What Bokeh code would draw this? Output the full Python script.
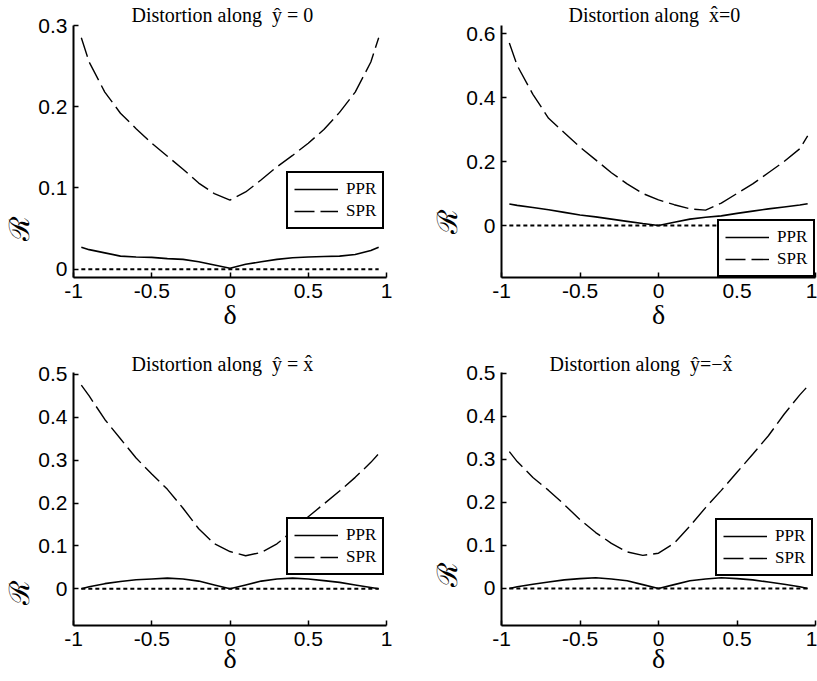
from bokeh.plotting import figure
from bokeh.layouts import column, row
from bokeh.models import FixedTicker, CustomJSTickFormatter, Range1d, Title
from bokeh.embed import file_html
from bokeh.resources import INLINE

# ---- data ----
delta = [-0.95, -0.9, -0.8, -0.7, -0.6, -0.5, -0.4, -0.3, -0.2, -0.1, 0.0,
         0.1, 0.2, 0.3, 0.4, 0.5, 0.6, 0.7, 0.8, 0.9, 0.95]

ppr_y0 = [0.027, 0.024, 0.020, 0.016, 0.015, 0.0145, 0.013, 0.012, 0.009, 0.005, 0.001,
          0.006, 0.009, 0.012, 0.014, 0.015, 0.0155, 0.016, 0.018, 0.023, 0.027]
spr_y0 = [0.285, 0.255, 0.218, 0.192, 0.173, 0.155, 0.139, 0.123, 0.106, 0.093, 0.085,
          0.095, 0.110, 0.126, 0.140, 0.155, 0.172, 0.193, 0.218, 0.255, 0.285]

ppr_x0 = [0.067, 0.063, 0.056, 0.049, 0.041, 0.033, 0.027, 0.020, 0.013, 0.006, 0.000,
          0.010, 0.020, 0.026, 0.030, 0.038, 0.045, 0.052, 0.058, 0.064, 0.068]
spr_x0 = [0.570, 0.500, 0.410, 0.335, 0.290, 0.245, 0.205, 0.165, 0.130, 0.100, 0.080,
          0.065, 0.052, 0.048, 0.070, 0.100, 0.130, 0.165, 0.200, 0.240, 0.280]

ppr_yx = [0.000, 0.005, 0.012, 0.017, 0.021, 0.023, 0.025, 0.023, 0.018, 0.009, 0.000,
          0.009, 0.018, 0.023, 0.025, 0.023, 0.019, 0.015, 0.009, 0.003, 0.000]
spr_yx = [0.475, 0.450, 0.395, 0.350, 0.305, 0.268, 0.232, 0.188, 0.140, 0.105, 0.087,
          0.077, 0.085, 0.105, 0.135, 0.168, 0.198, 0.228, 0.260, 0.295, 0.315]

ppr_ymx = [0.000, 0.004, 0.010, 0.015, 0.020, 0.023, 0.025, 0.022, 0.018, 0.009, 0.000,
           0.009, 0.018, 0.022, 0.025, 0.023, 0.020, 0.015, 0.010, 0.004, 0.000]
spr_ymx = [0.318, 0.295, 0.258, 0.228, 0.195, 0.160, 0.130, 0.105, 0.085, 0.077, 0.082,
           0.105, 0.145, 0.188, 0.228, 0.270, 0.312, 0.355, 0.405, 0.450, 0.470]

x_ticks = [-1, -0.5, 0, 0.5, 1]
y_ticks_a = [0, 0.1, 0.2, 0.3]
y_ticks_b = [0, 0.2, 0.4, 0.6]
y_ticks_c = [0, 0.1, 0.2, 0.3, 0.4, 0.5]

titles = ["Distortion along \u00a0ŷ = 0", "Distortion along \u00a0x̂=0",
          "Distortion along \u00a0ŷ = x̂", "Distortion along \u00a0ŷ=−x̂"]


def panel(ppr, spr, yticks, yr, title, W, H, bl, br, bt, bb,
          title_off, title_standoff, r_off, d_standoff, leg_xy):
    p = figure(width=W, height=H, x_range=Range1d(-1, 1), y_range=Range1d(*yr),
               output_backend="svg", toolbar_location=None,
               min_border_left=bl, min_border_right=br,
               min_border_top=bt, min_border_bottom=bb)
    p.grid.visible = False
    p.outline_line_color = None
    p.background_fill_color = "white"
    p.border_fill_color = "white"
    p.xaxis.ticker = FixedTicker(ticks=x_ticks)
    p.yaxis.ticker = FixedTicker(ticks=yticks)
    fmt = "return Number(tick.toFixed(2)).toString();"
    p.xaxis.formatter = CustomJSTickFormatter(code=fmt)
    p.yaxis.formatter = CustomJSTickFormatter(code=fmt)
    for ax in (p.xaxis[0], p.yaxis[0]):
        ax.axis_line_width = 2
        ax.axis_line_color = "black"
        ax.major_tick_in = 5
        ax.major_tick_out = 0
        ax.major_tick_line_width = 1.5
        ax.major_tick_line_color = "black"
        ax.minor_tick_line_color = None
        ax.major_label_text_font = "Liberation Sans"
        ax.major_label_text_font_size = "21px"
        ax.major_label_text_color = "black"
    p.xaxis.major_label_standoff = 6
    p.yaxis.major_label_standoff = 6
    p.xaxis.axis_label = "δ"
    p.xaxis.axis_label_text_font = "Liberation Serif"
    p.xaxis.axis_label_text_font_size = "28px"
    p.xaxis.axis_label_text_font_style = "normal"
    p.xaxis.axis_label_text_color = "black"
    p.xaxis.axis_label_standoff = d_standoff

    p.line(delta, ppr, line_color="black", line_width=1.6, legend_label="PPR")
    p.line(delta, spr, line_color="black", line_width=1.4, line_dash="20 6",
           legend_label="SPR")
    p.line([delta[0], delta[-1]], [0, 0], line_color="black", line_width=2,
           line_dash="4 3")

    leg = p.legend[0]
    leg.location = leg_xy
    leg.margin = 0
    leg.padding = 6
    leg.spacing = 2
    leg.glyph_width = 44
    leg.glyph_height = 16
    leg.label_height = 16
    leg.label_standoff = 8
    leg.label_text_font = "Liberation Serif"
    leg.label_text_font_size = "17px"
    leg.label_text_color = "black"
    leg.border_line_color = "black"
    leg.border_line_width = 2
    leg.border_line_alpha = 1.0
    leg.background_fill_color = "white"
    leg.background_fill_alpha = 1.0

    p.add_layout(Title(text=title, text_font="Liberation Serif", text_font_size="20px",
                       text_font_style="normal", text_color="black", align="left",
                       offset=title_off, standoff=title_standoff), "above")
    p.add_layout(Title(text="ℛ", text_font="DejaVu Serif", text_font_size="28px",
                       text_font_style="normal", text_color="black", align="left",
                       offset=r_off, standoff=0), "left")
    return p


p1 = panel(ppr_y0, spr_y0, y_ticks_a, (-0.0103, 0.3), titles[0],
           408, 340, 70, 22, 25, 63, 58, 0, 37, -2, (213, 48))
p2 = panel(ppr_x0, spr_x0, y_ticks_b, (-0.1625, 0.625), titles[1],
           409, 340, 93, 2, 25, 63, 67, 0, 44, -2, (216, 0))
p3 = panel(ppr_yx, spr_yx, y_ticks_c, (-0.0856, 0.5046), titles[2],
           408, 341, 70, 22, 30, 56, 58, -4, 21, -6, (213, 50))
p4 = panel(ppr_ymx, spr_ymx, y_ticks_c, (-0.086, 0.502), titles[3],
           409, 341, 93, 2, 32, 56, 48, -4, 39, -6, (214, 49))

layout = column(row(p1, p2), row(p3, p4))
open("out.html", "w").write(file_html(layout, INLINE))
